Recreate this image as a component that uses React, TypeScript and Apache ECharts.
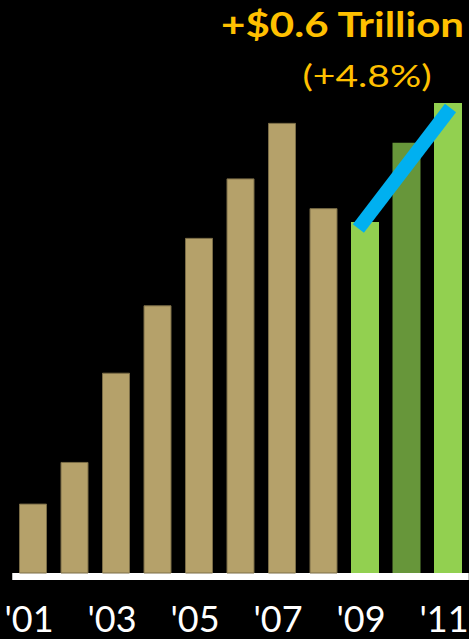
import React, { useEffect, useRef } from "react";
import * as echarts from "echarts";

const years = ["'01", "'02", "'03", "'04", "'05", "'06", "'07", "'08", "'09", "'10", "'11"];
// values in $ trillions
const values = [11.08, 11.29, 11.74, 12.08, 12.42, 12.72, 13.0, 12.57, 12.5, 12.9, 13.1];
const barColors = ["#B5A16A", "#B5A16A", "#B5A16A", "#B5A16A", "#B5A16A", "#B5A16A", "#B5A16A", "#B5A16A", "#92D050", "#67963A", "#92D050"];
// trend line: [category position, value]
const trendLine = [
  [7.84, 12.467],
  [10.06, 13.075],
];
const headline = "+$0.6 Trillion";
const subline = "(+4.8%)";

export default function App() {
  const ref = useRef<HTMLDivElement>(null);
  useEffect(() => {
    if (!ref.current) return;
    const chart = echarts.init(ref.current, null, { renderer: "svg" });
    chart.setOption({
      animation: false,
      backgroundColor: "#000000",
      grid: {
        left: 12.25,
        right: 0.25,
        top: 83.2,
        bottom: 66,
        containLabel: false,
        outerBoundsMode: "none",
      },
      xAxis: [
        {
          type: "category",
          data: years,
          offset: 3.5,
          axisLine: { lineStyle: { color: "#FFFFFF", width: 7, cap: "butt" } },
          axisTick: { show: false },
          axisLabel: {
            interval: 1,
            color: "#FFFFFF",
            fontFamily: "Lato",
            fontSize: 36,
            margin: 23,
            padding: [0, 8, 0, 0],
          },
        },
        { type: "value", min: -0.5, max: 10.5, show: false },
      ],
      yAxis: { type: "value", min: 10.73, max: 13.2, show: false },
      series: [
        {
          type: "bar",
          barWidth: 28,
          data: values.map((v, i) => ({
            value: v,
            itemStyle: {
              color: barColors[i],
              borderColor: i < 8 ? "#7A6C46" : barColors[i],
              borderWidth: i < 8 ? 1 : 0,
            },
          })),
        },
        {
          type: "line",
          xAxisIndex: 1,
          data: trendLine,
          symbol: "none",
          lineStyle: { color: "#00B0F0", width: 14, cap: "butt" },
          z: 5,
        },
      ],
      graphic: [
        {
          type: "text",
          x: 464,
          y: 6,
          scaleX: 1.2,
          style: {
            text: headline,
            fill: "#FFC000",
            font: "bold 35px Lato",
            textAlign: "right",
            textVerticalAlign: "top",
          },
        },
        {
          type: "text",
          x: 367,
          y: 60,
          scaleX: 1.3,
          style: {
            text: subline,
            fill: "#FFC000",
            font: "30px Lato",
            textAlign: "center",
            textVerticalAlign: "top",
          },
        },
      ],
    });
    return () => chart.dispose();
  }, []);
  return (
    <div
      ref={ref}
      style={{ position: "fixed", left: 0, top: 0, width: 469, height: 639 }}
    />
  );
}
